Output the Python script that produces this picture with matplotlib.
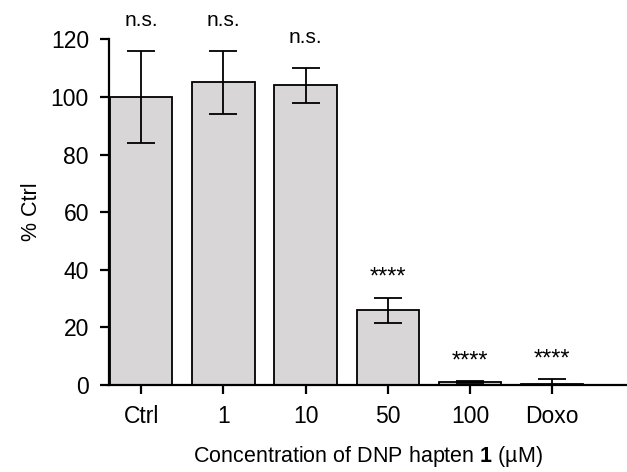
import numpy as np
import matplotlib.pyplot as plt

plt.rcParams['font.family'] = ['Liberation Sans', 'DejaVu Sans']
plt.rcParams['mathtext.fontset'] = 'custom'
plt.rcParams['mathtext.rm'] = 'Liberation Sans'
plt.rcParams['mathtext.bf'] = 'Liberation Sans:bold'

groups = ['Ctrl', '1', '10', '50', '100', 'Doxo']
means = [100, 105, 104, 26, 1, 0.5]
errors = [16, 11, 6, 4.3, 0.4, 1.5]
signif = ['n.s.', 'n.s.', 'n.s.', '****', '****', '****']


def createBarChart():
    fig = plt.figure(figsize=(6.27, 4.72), dpi=100)
    ax = fig.add_axes([0.174, 0.184, 0.826, 0.733])

    x = np.arange(len(groups))
    ax.bar(x, means, width=0.76, color='#d9d6d7', edgecolor='black', linewidth=1.3, zorder=2)
    ax.errorbar(x, means, yerr=errors, fmt='none', ecolor='black', elinewidth=1.3,
                capsize=10, capthick=1.3, zorder=3)

    for xi, m, e, s in zip(x, means, errors, signif):
        if s == 'n.s.':
            ax.annotate(s, (xi, m + e), xytext=(0, 18), textcoords='offset points',
                        ha='center', va='baseline', fontsize=15, annotation_clip=False)
        else:
            ax.annotate(s, (xi, m + e), xytext=(0, 10), textcoords='offset points',
                        ha='center', va='baseline', fontsize=17, annotation_clip=False)

    ax.set_xlim(-0.39, 5.91)
    ax.set_ylim(0, 120)
    ax.set_yticks(range(0, 121, 20))
    ax.set_xticks(x)
    ax.set_xticklabels(groups)
    ax.spines['top'].set_visible(False)
    ax.spines['right'].set_visible(False)
    ax.spines['left'].set_linewidth(1.6)
    ax.spines['bottom'].set_linewidth(1.6)
    ax.tick_params(axis='both', width=1.6, length=6.5, labelsize=16.5)
    ax.tick_params(axis='y', pad=8)
    ax.tick_params(axis='x', pad=8)
    ax.set_ylabel('% Ctrl', fontsize=15.5, labelpad=6)
    ax.set_xlabel(r'Concentration of DNP hapten $\mathbf{1}$ (µM)', fontsize=15.5, labelpad=11)
    fig.savefig('out.png', dpi=100)


if __name__ == "__main__":
    createBarChart()
